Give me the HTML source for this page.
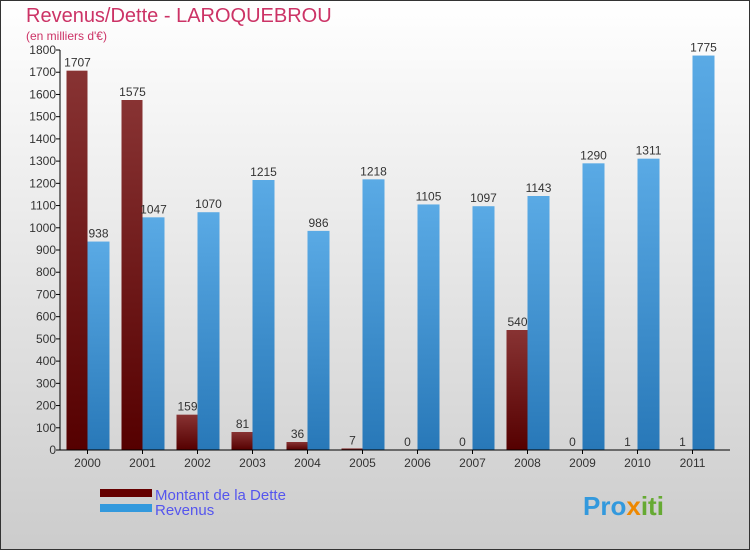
<!DOCTYPE html>
<html><head><meta charset="utf-8"><style>
body{margin:0}
#c{width:750px;height:550px;position:relative;overflow:hidden}
text{font-family:"Liberation Sans",sans-serif}
</style></head><body>
<div id="c">
<svg id="s" width="750" height="550" xmlns="http://www.w3.org/2000/svg">
<defs>
<linearGradient id="bg" x1="0" y1="0" x2="0" y2="1"><stop offset="0" stop-color="#ffffff"/><stop offset="1" stop-color="#cccccc"/></linearGradient>
<linearGradient id="gd" x1="0" y1="0" x2="0" y2="1"><stop offset="0" stop-color="#883333"/><stop offset="1" stop-color="#550000"/></linearGradient>
<linearGradient id="gr" x1="0" y1="0" x2="0" y2="1"><stop offset="0" stop-color="#5aaae5"/><stop offset="1" stop-color="#2878b8"/></linearGradient>
</defs>
<rect x="0.5" y="0.5" width="749" height="549" fill="url(#bg)" stroke="#333"/>
<text x="26" y="22" font-size="20" fill="#cc3366">Revenus/Dette - LAROQUEBROU</text>
<text x="26" y="40" font-size="12" fill="#cc3366">(en milliers d'€)</text>
<g id="plot"></g>
<rect x="100" y="489" width="52" height="8" fill="#660000"/>
<rect x="100" y="504" width="52" height="8" fill="#3399dd"/>
<text x="155" y="500" font-size="15" fill="#5555ee">Montant de la Dette</text>
<text x="155" y="515" font-size="15" fill="#5555ee">Revenus</text>
<text x="583" y="515" font-size="26" font-weight="bold" fill="#3399dd"><tspan fill="#3399dd">Pro</tspan><tspan fill="#ee8800">x</tspan><tspan fill="#66aa33">iti</tspan></text>
</svg>
</div>
<script>
const categories=["2000","2001","2002","2003","2004","2005","2006","2007","2008","2009","2010","2011"];
const dette=[1707,1575,159,81,36,7,0,0,540,0,1,1];
const revenus=[938,1047,1070,1215,986,1218,1105,1097,1143,1290,1311,1775];
const yTicks=[0,100,200,300,400,500,600,700,800,900,1000,1100,1200,1300,1400,1500,1600,1700,1800];
const NS="http://www.w3.org/2000/svg";
const g=document.getElementById('plot');
const x0=60,x1=720,y0=450,yTop=50,maxV=1800;
const y=v=>y0-(v/maxV)*(y0-yTop);
const band=(x1-x0)/categories.length;
const xc=i=>x0+band*(i+0.5);
function mk(t,a){const e=document.createElementNS(NS,t);for(const k in a)e.setAttribute(k,a[k]);g.appendChild(e);return e;}
yTicks.forEach(v=>{
 const l=mk('line',{x1:x0-4,x2:x0,y1:y(v),y2:y(v),stroke:'#000'});
 
 
 const t=mk('text',{x:x0-4,y:y(v)+4,'text-anchor':'end','font-size':12,fill:'#333'});
 t.textContent=v;
 
 
});
categories.forEach((c,i)=>{
 const cx=xc(i);
 const bd=mk('rect',{x:cx-21,y:y(dette[i]),width:21,height:y0-y(dette[i]),fill:'url(#gd)'});
 
 
 const br=mk('rect',{x:cx,y:y(revenus[i]),width:22,height:y0-y(revenus[i]),fill:'url(#gr)'});
 
 
 const td=mk('text',{x:cx-10,y:y(dette[i])-4,'text-anchor':'middle','font-size':12,fill:'#333'});
 td.textContent=dette[i];
 
 
 const tr=mk('text',{x:cx+11,y:y(revenus[i])-4,'text-anchor':'middle','font-size':12,fill:'#333'});
 tr.textContent=revenus[i];
 
 
 const tk=mk('line',{x1:cx,x2:cx,y1:y0,y2:y0+4,stroke:'#000'});
 
 
 const tx=mk('text',{x:cx,y:y0+17,'text-anchor':'middle','font-size':12,fill:'#333'});
 tx.textContent=c;
 
 
});
const ya=mk('line',{x1:x0,x2:x0,y1:yTop,y2:y0,stroke:'#000'});


const xa=mk('line',{x1:x0,x2:730,y1:y0,y2:y0,stroke:'#000'});


</script>
</body></html>
